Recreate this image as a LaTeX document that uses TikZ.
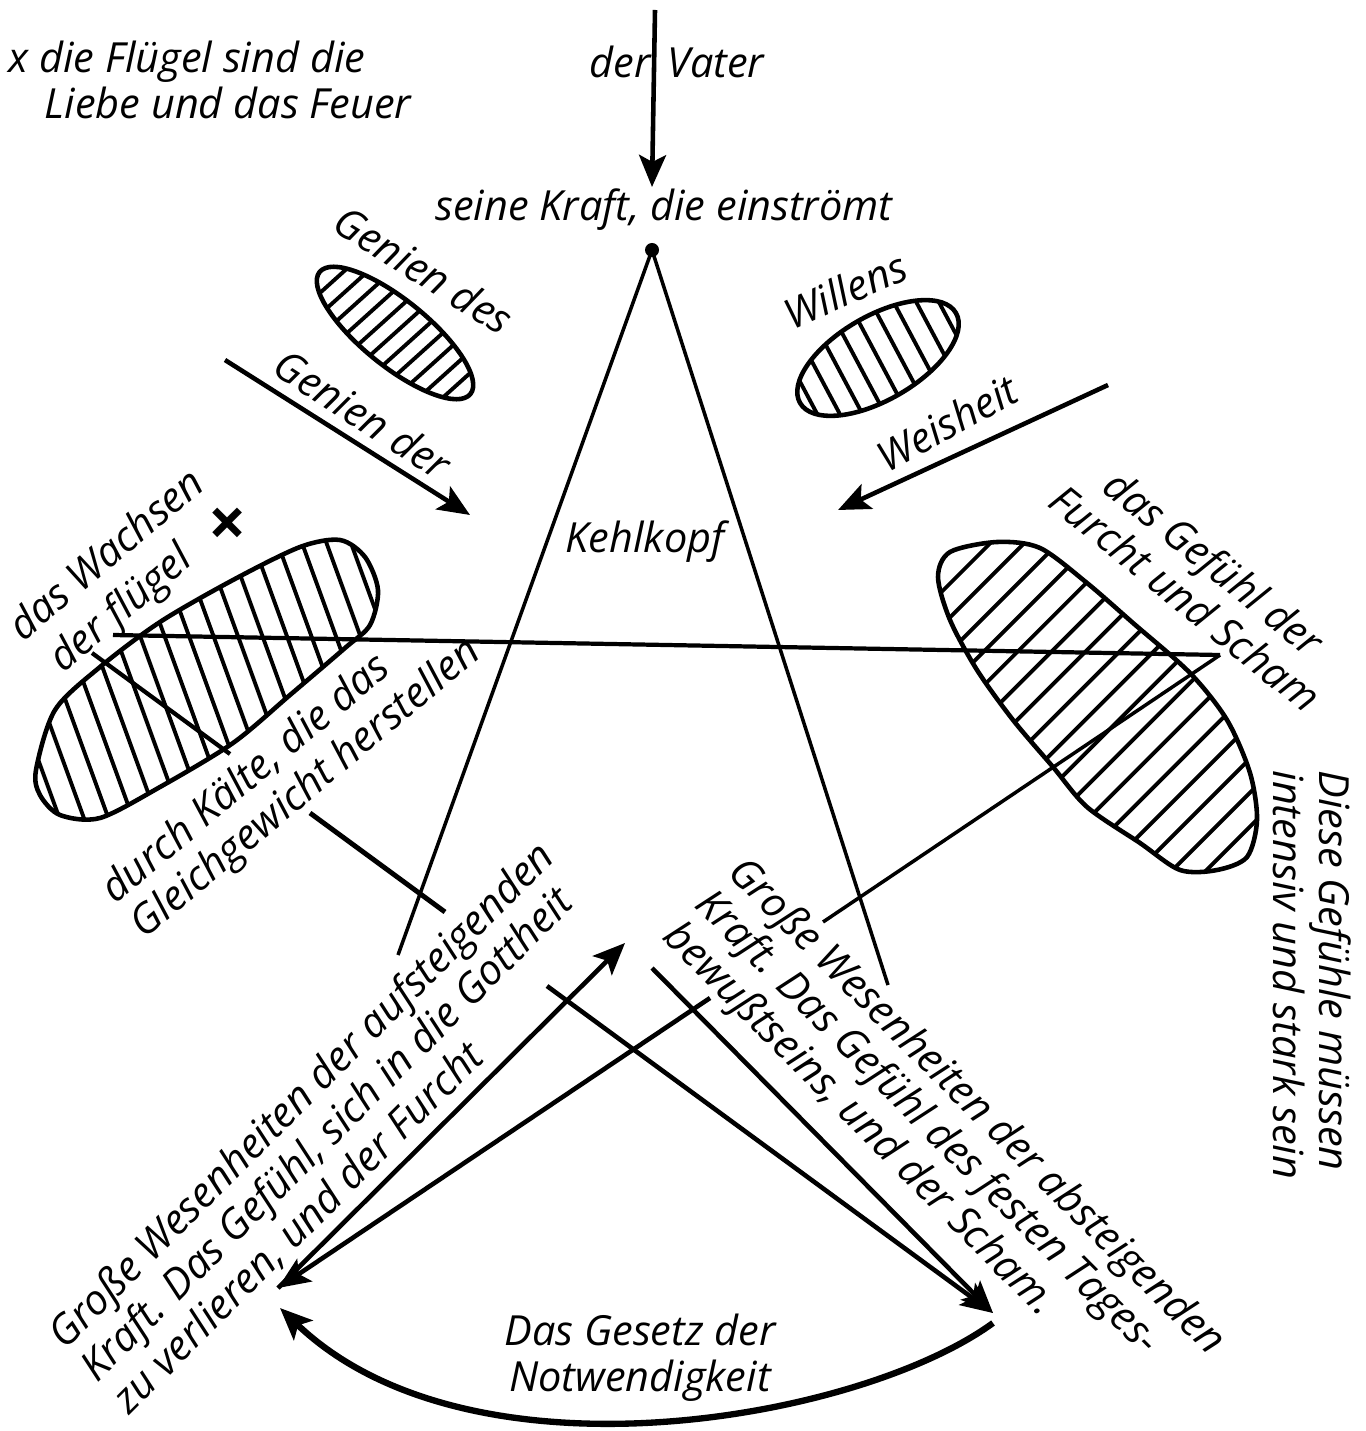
\documentclass[tikz,border=0pt]{standalone}
\usepackage{fontspec}
\setmainfont{Open Sans}
\usepackage{tikz}
\usetikzlibrary{arrows.meta, positioning}
\definecolor{ink}{RGB}{0, 0, 0}
\tikzset{
    note/.style={font=\itshape\fontsize{11.8}{13}\selectfont, text=ink, inner sep=0pt, align=left},
    pentaline/.style={draw=ink, line width=1pt},
    arr/.style={-{Stealth[length=3.2mm, width=2.7mm, inset=0.7mm]}, draw=ink, line width=1.3pt},
    hatch/.style={draw=ink, line width=1.1pt, line cap=round},
    blob/.style={draw=ink, line width=1.3pt}
}

\begin{document}
\begin{tikzpicture}[x=0.01cm, y=-0.01cm]
    \useasboundingbox (0,0) rectangle (1365,1431);

    % points of the star
    \coordinate (apex) at (652,250);
    \coordinate (aL) at (398,955);
    \coordinate (aR) at (888,985);
    \coordinate (vL) at (113,635);
    \coordinate (vL2) at (92,653);
    \coordinate (vR) at (1220,655);
    \coordinate (bL) at (278,1288);
    \coordinate (bR) at (993,1313);
    \coordinate (c4) at (823,922);
    \coordinate (c4b) at (710,998);
    \coordinate (s1) at (230,754);
    \coordinate (s2) at (310,813);
    \coordinate (s3) at (445,912);
    \coordinate (s4) at (547,986);
    \coordinate (up1) at (625,943);
    \coordinate (dn1) at (652,968);
    \coordinate (cR) at (993,1323);
    \coordinate (cL) at (280,1308);
    \coordinate (f1) at (655,10);
    \coordinate (f2) at (652,187);
    \coordinate (g1) at (225,360);
    \coordinate (g2) at (470,515);
    \coordinate (w1) at (1108,385);
    \coordinate (w2) at (838,510);

    % hatched wings
    \begin{scope}
      \clip (395,333) [rotate around={-39:(395,333)}] ellipse [x radius=97, y radius=33];
      \foreach \k in {-7,...,7}
        \draw[hatch, rotate around={-48:(395,333)}] ({395+\k*16},183) -- ({395+\k*16},483);
    \end{scope}
    \draw[blob, rotate around={-39:(395,333)}] (395,333) ellipse [x radius=97, y radius=33];

    \begin{scope}
      \clip (878,358) [rotate around={30:(878,358)}] ellipse [x radius=90, y radius=42];
      \foreach \k in {-6,...,6}
        \draw[hatch, rotate around={28:(878,358)}] ({878+\k*20},208) -- ({878+\k*20},508);
    \end{scope}
    \draw[blob, rotate around={30:(878,358)}] (878,358) ellipse [x radius=90, y radius=42];

    \begin{scope}
      \clip plot[smooth cycle] coordinates {(36,770) (55,710) (100,667) (160,622) (233,580) (300,547) (340,540) (365,557) (378,590) (370,625) (345,648) (290,695) (233,743) (160,787) (100,818) (60,815) (40,795)};
      \foreach \k in {-10,...,10}
        \draw[hatch, rotate around={20:(205,680)}] ({205+\k*23},380) -- ({205+\k*23},980);
    \end{scope}
    \draw[blob] plot[smooth cycle] coordinates {(36,770) (55,710) (100,667) (160,622) (233,580) (300,547) (340,540) (365,557) (378,590) (370,625) (345,648) (290,695) (233,743) (160,787) (100,818) (60,815) (40,795)};

    \begin{scope}
      \clip plot[smooth cycle] coordinates {(938,577) (950,552) (997,542) (1040,548) (1087,583) (1133,623) (1190,673) (1227,720) (1250,773) (1257,820) (1247,857) (1217,870) (1180,870) (1140,843) (1087,807) (1053,767) (1013,720) (977,670) (950,620)};
      \foreach \k in {-11,...,11}
        \draw[hatch, rotate around={-45:(1095,710)}] ({1095+\k*24},360) -- ({1095+\k*24},1060);
    \end{scope}
    \draw[blob] plot[smooth cycle] coordinates {(938,577) (950,552) (997,542) (1040,548) (1087,583) (1133,623) (1190,673) (1227,720) (1250,773) (1257,820) (1247,857) (1217,870) (1180,870) (1140,843) (1087,807) (1053,767) (1013,720) (977,670) (950,620)};

    % star lines
    \draw[pentaline] (apex) -- (aL);
    \draw[pentaline] (apex) -- (aR);
    \draw[pentaline, line width=1.2pt] (vL) -- (vR);
    \draw[pentaline] (vR) -- (c4);
    \draw[arr] (c4b) -- (bL);
    \draw[pentaline, line width=1.2pt] (vL2) -- (s1);
    \draw[pentaline, line width=1.4pt] (s2) -- (s3);
    \draw[arr] (s4) -- (bR);
    \draw[arr] (bL) -- (up1);
    \draw[arr] (dn1) -- (bR);
    \draw[arr, line width=1.8pt] (cR) .. controls (860,1420) and (470,1490) .. (cL);
    \fill[ink] (apex) circle [radius=7];

    % inflowing arrows
    \draw[arr] (f1) -- (f2);
    \draw[arr] (g1) -- (g2);
    \draw[arr] (w1) -- (w2);

    % texts
    \node[note] (wings) at (187,62) {x die Flügel sind die};
    \node[note] (wings2) at (228,103) {Liebe und das Feuer};
    \node[note] (father) at (677,62) {der\hspace{0.4em}Vater};
    \node[note] (force) at (664,210) {seine Kraft, die einströmt};
    \node[note, rotate=-32] (genDes) at (424,270) {Genien des};
    \node[note, rotate=-33] (genDer) at (363,414) {Genien der};
    \node[note, rotate=24] (will) at (845,290) {Willens};
    \node[note, rotate=29] (wisdom) at (947,423) {Weisheit};
    \node[note] (larynx) at (645,542) {Kehlkopf};
    \node[note, rotate=40] (growth) at (105,553) {das Wachsen};
    \node[note, rotate=40] (growth2) at (122,610) {der flügel};
    \node[font=\fontsize{19}{19}\selectfont\bfseries, text=ink, inner sep=0pt] (cross) at (228,527) {×};
    \node[note, rotate=40] (cold) at (292,772) {durch Kälte, die das\\Gleichgewicht herstellen};
    \node[note, rotate=-39, align=center] (fear) at (1200,580) {das Gefühl der\\Furcht und Scham};
    \node[note, rotate=-90] (strong) at (1312,975) {Diese Gefühle müssen\\intensiv und stark sein};
    \node[note, rotate=45] (rising) at (334,1128) {Große Wesenheiten der aufsteigenden\\Kraft. Das Gefühl, sich in die Gottheit\\zu verlieren, und der Furcht};
    \node[note, rotate=-45] (falling) at (943,1140) {Große Wesenheiten der absteigenden\\Kraft. Das Gefühl des festen Tages-\\bewußtseins, und der Scham.};
    \node[note, align=center] (law) at (640,1358) {Das Gesetz der\\Notwendigkeit};
\end{tikzpicture}
\end{document}
